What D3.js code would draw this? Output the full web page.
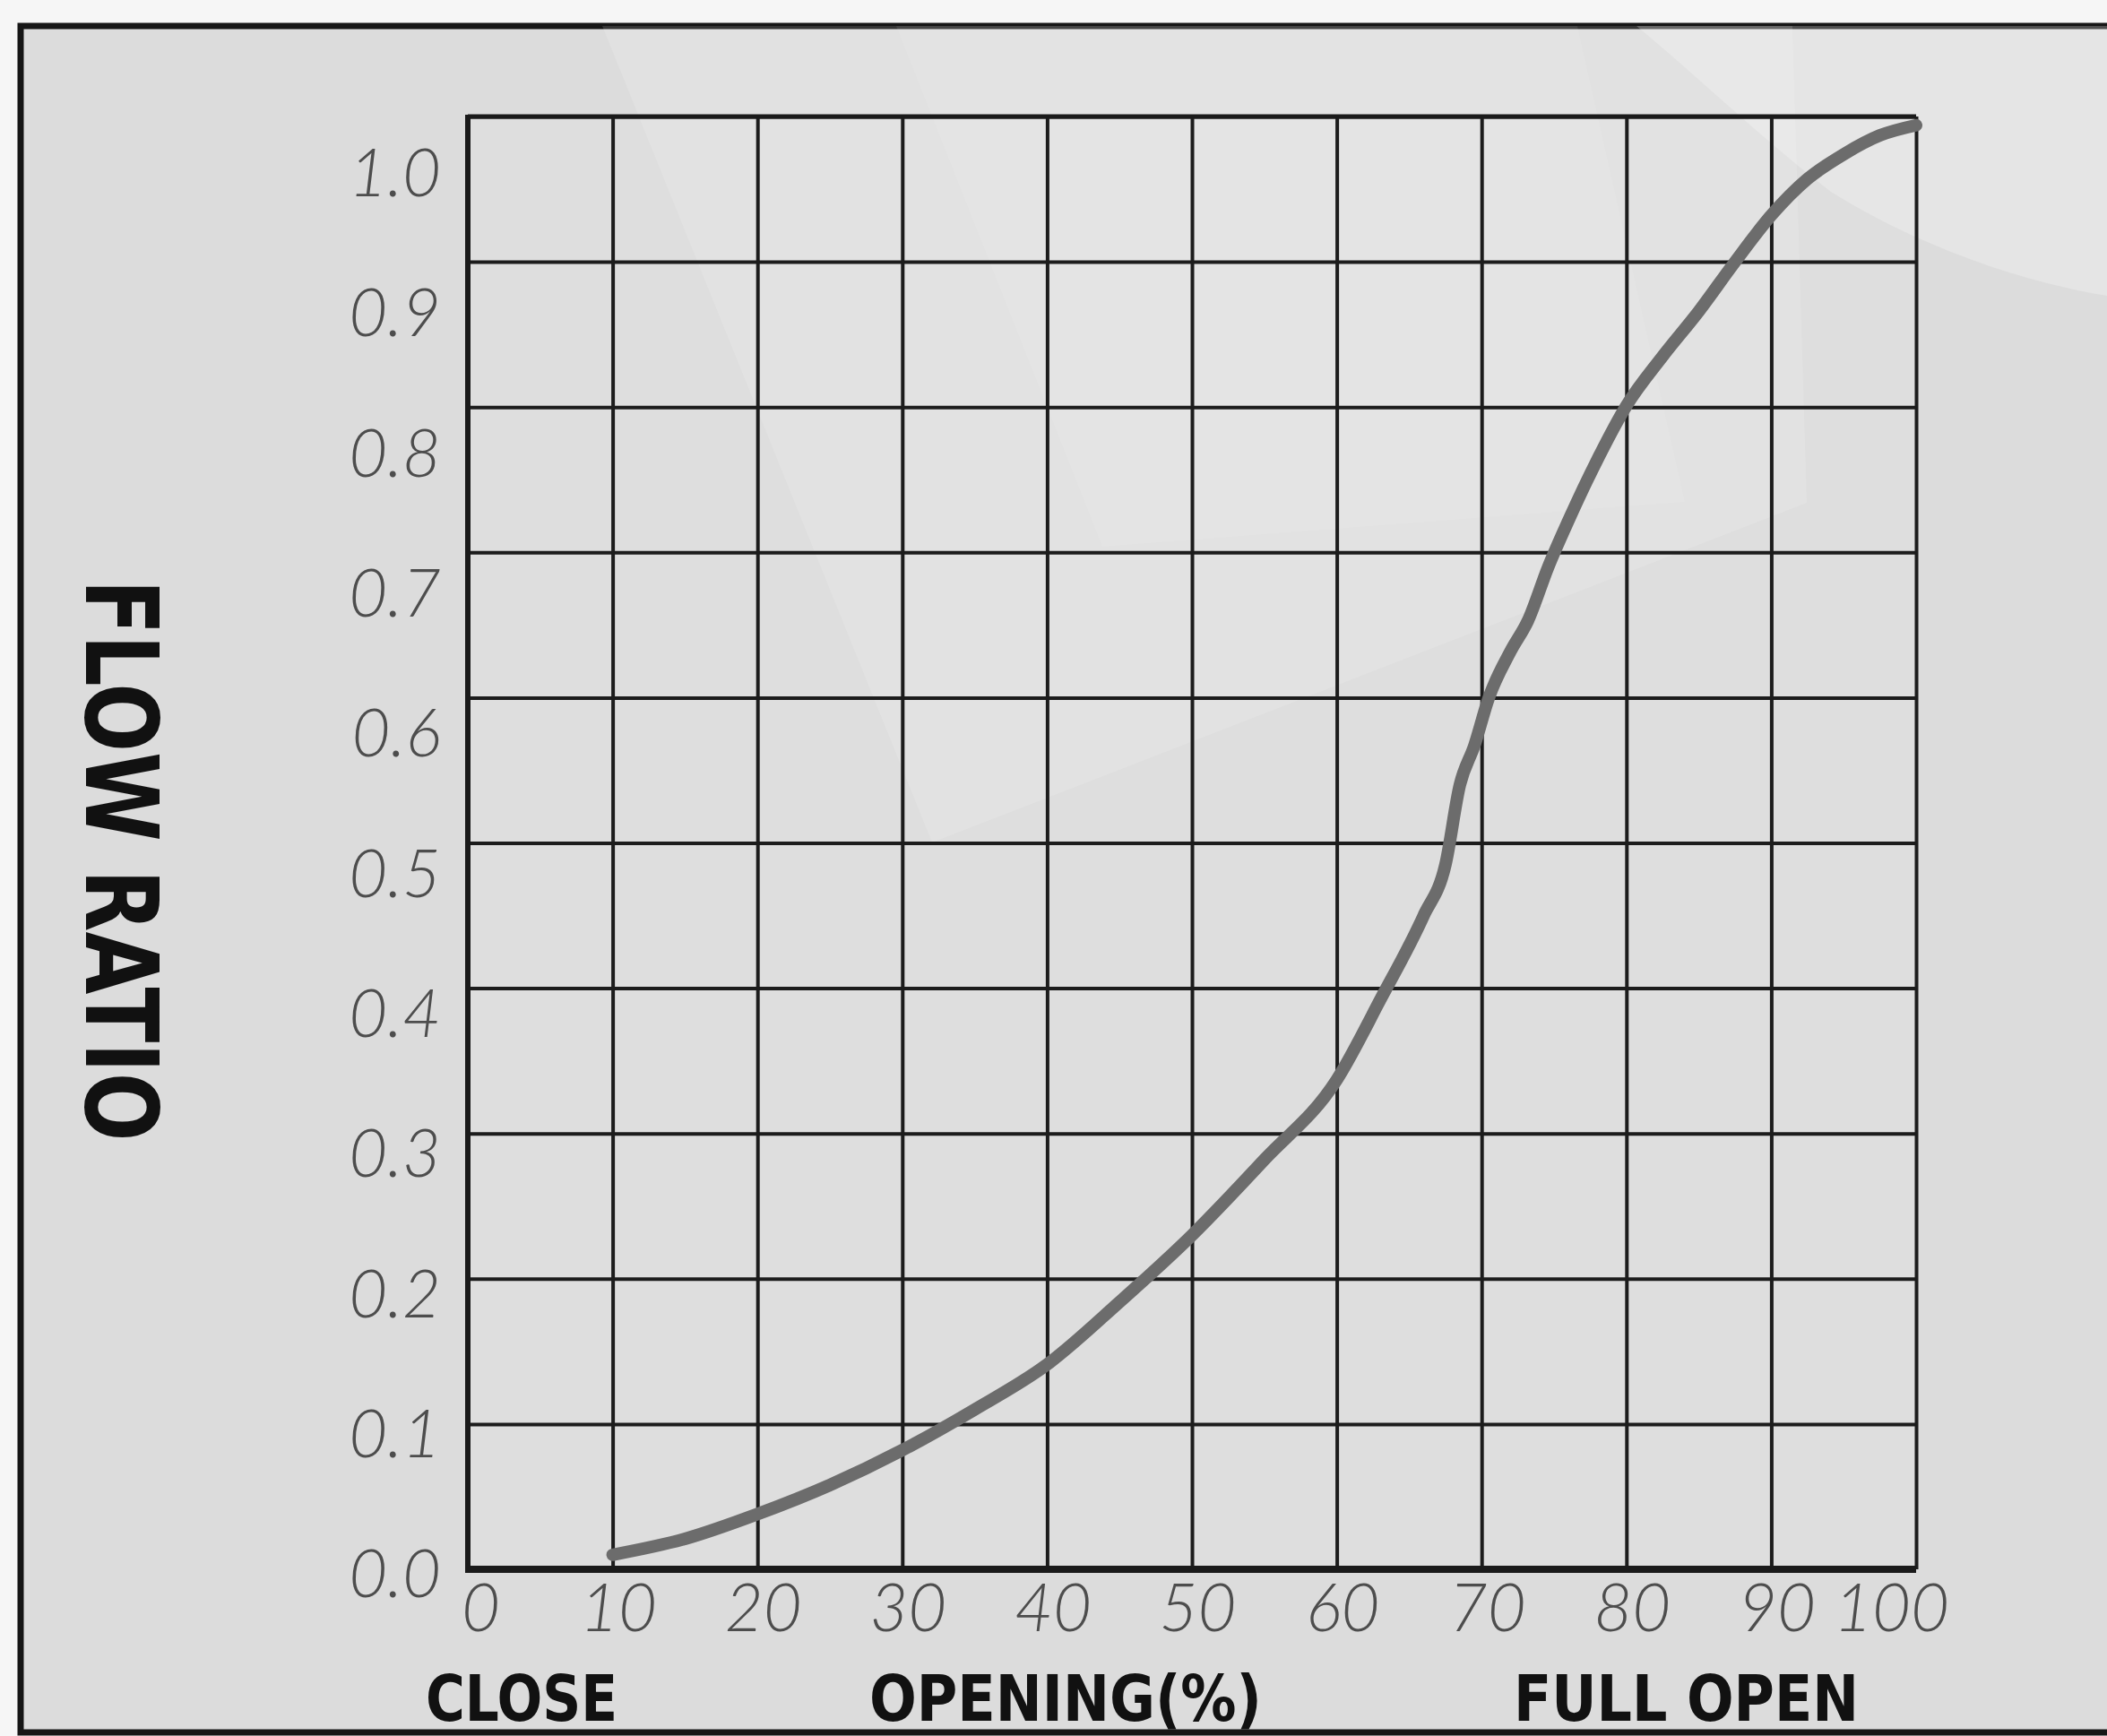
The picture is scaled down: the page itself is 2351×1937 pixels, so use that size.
<!DOCTYPE html>
<html>
<head>
<meta charset="utf-8">
<script src="https://cdn.jsdelivr.net/npm/d3@7/dist/d3.min.js"></script>
<style>
  body { margin: 0; background: #f6f6f6; }
  svg { display: block; }
</style>
</head>
<body>
<svg id="chart"></svg>
<script>
// valve opening (%) vs flow ratio
var opening = [10, 15, 20, 25, 30, 35, 40, 45, 50, 55, 60, 63, 66, 67.5, 68.5, 69.5, 70.5, 72, 73.2, 74.6, 76, 78, 80, 82.5, 85, 87.5, 90, 92.5, 95, 97.5, 100];
var flowRatio = [0.01, 0.021, 0.038, 0.058, 0.082, 0.11, 0.141, 0.184, 0.23, 0.282, 0.337, 0.392, 0.45, 0.485, 0.54, 0.567, 0.6, 0.632, 0.653, 0.69, 0.722, 0.764, 0.801, 0.835, 0.866, 0.9, 0.932, 0.957, 0.974, 0.987, 0.994];

var xTicks = [0, 10, 20, 30, 40, 50, 60, 70, 80, 90, 100];
var yTicks = [0, 0.1, 0.2, 0.3, 0.4, 0.5, 0.6, 0.7, 0.8, 0.9, 1.0];
var bottomLabels = ['CLOSE', 'OPENING(%)', 'FULL OPEN'];
var yTitle = 'FLOW RATIO';

var W = 2351, H = 1937;
var plot = { left: 522, right: 2138, top: 130, bottom: 1751 };

var svg = d3.select('#chart').attr('width', W).attr('height', H);

// panel behind the chart
svg.append('rect').attr('x', 0).attr('y', 0).attr('width', W).attr('height', H).attr('fill', '#f6f6f6');
svg.append('rect')
  .attr('x', 23).attr('y', 29).attr('width', W).attr('height', 1904)
  .attr('fill', '#dcdcdc').attr('stroke', '#161616').attr('stroke-width', 7);

var x = d3.scaleLinear().domain([0, 100]).range([plot.left, plot.right]);
var y = d3.scaleLinear().domain([0, 1]).range([plot.bottom, plot.top]);
// the printed labels sit a little below their gridlines, more so at the top
var yLab = d3.scaleLinear().domain([0, 1]).range([plot.bottom + 7, plot.top + 65]);

svg.append('rect')
  .attr('x', plot.left).attr('y', plot.top)
  .attr('width', plot.right - plot.left).attr('height', plot.bottom - plot.top)
  .attr('fill', '#dedede');

// photo glare on the sheet
var glare = svg.append('g').attr('pointer-events', 'none');
glare.append('path')
  .attr('d', 'M672,29 L1040,940 L2016,561 L2000,29 Z')
  .attr('fill', '#ffffff').attr('opacity', 0.14);
glare.append('path')
  .attr('d', 'M1000,29 L1230,610 L1880,560 L1760,29 Z')
  .attr('fill', '#ffffff').attr('opacity', 0.08);
glare.append('path')
  .attr('d', 'M1826,29 C1900,90 1960,150 2043,214 C2120,262 2230,310 2351,330 L2351,29 Z')
  .attr('fill', '#ffffff').attr('opacity', 0.25);

// grid
var gridY = svg.append('g')
  .attr('transform', 'translate(' + plot.left + ',0)')
  .call(d3.axisLeft(y).tickValues(yTicks).tickSize(-(plot.right - plot.left)).tickFormat(''));
var gridX = svg.append('g')
  .attr('transform', 'translate(0,' + plot.bottom + ')')
  .call(d3.axisBottom(x).tickValues(xTicks).tickSize(-(plot.bottom - plot.top)).tickFormat(''));
[gridY, gridX].forEach(function(g){
  g.select('.domain').remove();
  g.selectAll('.tick line').attr('stroke', '#1c1c1c').attr('stroke-width', 4);
});

// heavier frame on the axes
svg.append('line').attr('x1', plot.left).attr('x2', plot.right).attr('y1', plot.bottom).attr('y2', plot.bottom)
  .attr('stroke', '#1a1a1a').attr('stroke-width', 8);
svg.append('line').attr('x1', plot.left).attr('x2', plot.left).attr('y1', plot.top - 2).attr('y2', plot.bottom + 4)
  .attr('stroke', '#1a1a1a').attr('stroke-width', 6);
svg.append('line').attr('x1', plot.left).attr('x2', plot.right).attr('y1', plot.top).attr('y2', plot.top)
  .attr('stroke', '#1a1a1a').attr('stroke-width', 5);

// curve
var pts = opening.map(function(d, i){ return [d, flowRatio[i]]; });
var line = d3.line()
  .x(function(d){ return x(d[0]); })
  .y(function(d){ return y(d[1]); })
  .curve(d3.curveMonotoneX);
svg.append('path')
  .datum(pts)
  .attr('d', line)
  .attr('fill', 'none')
  .attr('stroke', '#6c6c6c')
  .attr('stroke-width', 14)
  .attr('stroke-linecap', 'round')
  .attr('stroke-linejoin', 'round');

// tick labels
var numFont = 'Lato, "Open Sans", "DejaVu Sans", sans-serif';
var yAxis = svg.append('g')
  .attr('transform', 'translate(' + plot.left + ',0)')
  .call(d3.axisLeft(yLab).tickValues(yTicks).tickSize(0).tickPadding(30).tickFormat(d3.format('.1f')));
var xAxis = svg.append('g')
  .attr('transform', 'translate(6,' + plot.bottom + ')')
  .call(d3.axisBottom(x).tickValues(xTicks).tickSize(0).tickPadding(16).tickFormat(d3.format('d')));
[yAxis, xAxis].forEach(function(g){
  g.select('.domain').remove();
  g.selectAll('.tick text')
    .attr('font-family', numFont)
    .attr('font-style', 'italic')
    .attr('font-weight', 300)
    .attr('font-size', 74)
    .attr('fill', '#4d4d4d');
});
xAxis.selectAll('.tick text')
  .filter(function(d){ return d === 0; })
  .attr('dx', 8);
xAxis.selectAll('.tick text')
  .filter(function(d){ return d === 100; })
  .attr('dx', -34);

// bold captions
var capFont = '"Liberation Sans Narrow", "DejaVu Sans Condensed", "Liberation Sans", Arial, sans-serif';
var capPos = [[475, 214], [970, 438], [1689, 385]];
svg.selectAll('text.cap')
  .data(bottomLabels)
  .enter().append('text')
  .attr('class', 'cap')
  .attr('x', function(d, i){ return capPos[i][0]; })
  .attr('y', 1920)
  .attr('textLength', function(d, i){ return capPos[i][1]; })
  .attr('lengthAdjust', 'spacingAndGlyphs')
  .attr('font-family', capFont)
  .attr('font-weight', 'bold')
  .attr('font-size', 72)
  .attr('fill', '#111')
  .text(function(d){ return d; });

svg.append('text')
  .attr('transform', 'translate(96,960) rotate(90)')
  .attr('text-anchor', 'middle')
  .attr('textLength', 627)
  .attr('lengthAdjust', 'spacingAndGlyphs')
  .attr('font-family', capFont)
  .attr('font-weight', 'bold')
  .attr('font-size', 112)
  .attr('fill', '#111')
  .text(yTitle);
</script>
</body>
</html>
